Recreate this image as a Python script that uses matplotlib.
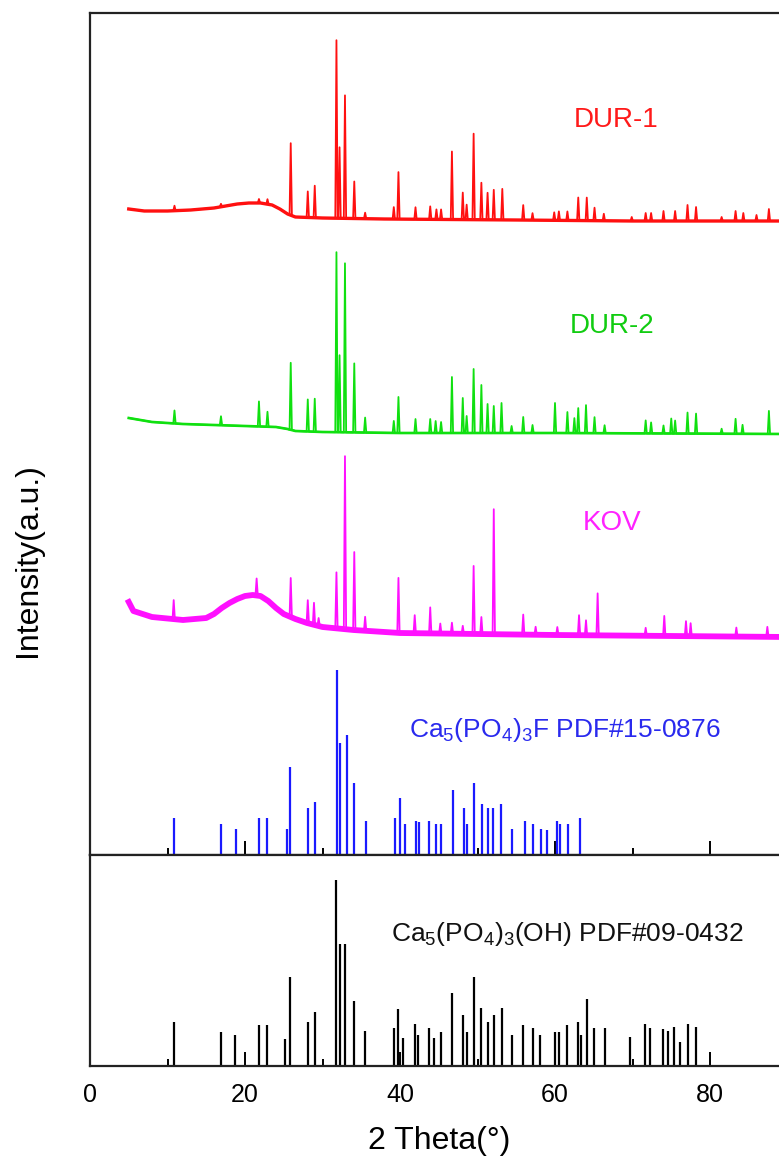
import numpy as np
import matplotlib
matplotlib.use('Agg')
import matplotlib.pyplot as plt
from matplotlib.ticker import MultipleLocator

plt.rcParams['font.family'] = ['Liberation Sans', 'DejaVu Sans']
plt.rcParams['mathtext.fontset'] = 'custom'
plt.rcParams['mathtext.rm'] = 'Liberation Sans'
plt.rcParams['mathtext.it'] = 'Liberation Sans:italic'
plt.rcParams['mathtext.bf'] = 'Liberation Sans:bold'

# ---- measured patterns: 2theta (deg) and stacked intensity (a.u.) ----
# DUR-1
dur1_base_x = [5, 7, 10, 13, 16, 17.5, 19, 20.5, 22, 23.5, 24.5, 25.5, 26.5, 30, 38, 55, 70, 90]
dur1_base_y = [646, 644, 644, 645, 647, 649, 651, 652, 652, 650, 646, 641, 638, 637, 636, 635, 634, 634]
dur1_pk_x = [10.9, 16.9, 21.8, 22.9, 25.9, 28.1, 29.0, 31.8, 32.2, 32.9, 34.1, 35.5, 39.2, 39.8,
             42.0, 43.9, 44.7, 45.3, 46.7, 48.1, 48.6, 49.5, 50.5, 51.3, 52.1, 53.2, 55.9, 57.1,
             59.9, 60.5, 61.6, 63.0, 64.1, 65.1, 66.3, 69.9, 71.7, 72.4, 74.0, 75.5, 77.1, 78.2,
             81.5, 83.3, 84.3, 86.0, 87.6]
dur1_pk_h = [5, 3, 4, 5, 72, 26, 32, 178, 71, 123, 37, 6, 12, 47,
             12, 13, 10, 10, 68, 27, 15, 86, 37, 27, 30, 31, 15, 7,
             8, 9, 9, 23, 23, 13, 7, 4, 8, 8, 10, 10, 16, 14,
             4, 10, 8, 6, 12]

# DUR-2
dur2_base_x = [5, 8, 12, 16, 20, 24, 25.5, 26.5, 30, 40, 60, 90]
dur2_base_y = [437, 433, 431, 430, 429, 428, 426, 424, 423, 422, 422, 421]
dur2_pk_x = [10.9, 16.9, 21.8, 22.9, 25.9, 28.1, 29.0, 31.8, 32.2, 32.9, 34.1, 35.5, 39.2, 39.8,
             42.0, 43.9, 44.6, 45.3, 46.7, 48.1, 48.6, 49.5, 50.5, 51.3, 52.1, 53.1, 54.4, 55.9,
             57.1, 60.0, 61.6, 62.5, 63.0, 64.0, 65.1, 66.4, 71.7, 72.4, 74.0, 75.0, 75.5, 77.1,
             78.2, 81.5, 83.3, 84.2, 87.6]
dur2_pk_h = [13, 9, 25, 15, 67, 32, 33, 180, 77, 169, 69, 15, 12, 36,
             14, 14, 12, 11, 56, 35, 17, 64, 48, 29, 27, 30, 7, 16,
             8, 30, 21, 15, 25, 28, 16, 8, 13, 11, 8, 15, 13, 21,
             20, 5, 15, 9, 23]

# KOV
kov_base_x = [5, 5.6, 8, 12, 15, 16, 17, 18, 19, 20, 21, 22, 23, 24, 25, 26.5, 28, 30, 34, 40, 60, 90]
kov_base_y = [253, 244, 238, 235, 237, 241, 247, 252, 256, 259, 260, 259, 254, 247, 241, 236, 232,
              228, 225, 222, 220, 218]
kov_pk_x = [10.8, 21.5, 25.9, 28.1, 28.9, 29.5, 31.8, 32.9, 34.1, 35.5, 39.8, 41.9, 43.9, 45.2,
            46.7, 48.1, 49.5, 50.5, 52.1, 55.9, 57.5, 60.3, 63.1, 64.0, 65.5, 71.7, 74.1, 76.9,
            77.5, 83.4, 87.4]
kov_pk_h = [19, 17, 39, 23, 22, 8, 56, 173, 78, 14, 55, 18, 26, 10,
            11, 8, 68, 17, 125, 20, 8, 8, 20, 15, 42, 8, 20, 15,
            13, 9, 10]

# ---- reference cards ----
fap_x = [10.9, 16.9, 18.9, 21.8, 22.9, 25.4, 25.85, 28.1, 29.0, 31.9, 32.2, 33.1, 34.1, 35.6,
         39.3, 39.95, 40.6, 42.1, 42.4, 43.8, 44.7, 45.3, 46.8, 48.2, 48.7, 49.5, 50.6, 51.3,
         52.0, 53.0, 54.4, 56.1, 57.2, 58.2, 59.0, 60.2, 60.6, 61.7, 63.2]
fap_h = [37, 31, 26, 37, 37, 26, 88, 47, 53, 185, 112, 120, 72, 34,
         37, 57, 31, 34, 33, 34, 31, 31, 65, 47, 31, 72, 51, 47,
         47, 51, 26, 34, 31, 26, 25, 34, 31, 31, 37]

hap_x = [10.85, 16.9, 18.75, 21.8, 22.9, 25.2, 25.85, 28.1, 28.97, 31.77, 32.2, 32.9, 34.05, 35.5,
         39.2, 39.8, 40.4, 41.9, 42.3, 43.8, 44.4, 45.3, 46.7, 48.1, 48.6, 49.5, 50.5, 51.3,
         52.1, 53.2, 54.4, 55.9, 57.1, 58.1, 60.0, 60.5, 61.6, 63.0, 63.4, 64.1, 65.0, 66.4,
         69.7, 71.6, 72.3, 73.9, 74.6, 75.4, 76.1, 77.1, 78.2]
hap_h = [44, 34, 31, 41, 41, 27, 89, 44, 54, 186, 122, 122, 65, 35,
         38, 57, 28, 42, 31, 38, 28, 34, 73, 51, 34, 89, 58, 44,
         51, 58, 31, 41, 38, 31, 34, 34, 41, 44, 31, 67, 38, 38,
         29, 42, 38, 37, 35, 39, 24, 42, 39]


def trace(base_x, base_y, pk_x, pk_h, w=0.15):
    # baseline knots plus a narrow spike for every read-off peak
    bx = np.asarray(base_x, float)
    by = np.asarray(base_y, float)
    px = np.asarray(pk_x, float)
    ph = np.asarray(pk_h, float)
    foot = np.interp(px, bx, by)
    keep = np.array([np.all(np.abs(px - v) > w) for v in bx])
    x = np.concatenate([bx[keep], px - w, px, px + w])
    y = np.concatenate([by[keep], foot, foot + ph, foot])
    order = np.argsort(x, kind='stable')
    return x[order], y[order]


fig = plt.figure(figsize=(7.79, 11.67), dpi=100)
fig.patch.set_facecolor('white')

left = 90 / 779
width = 697.5 / 779
ax = fig.add_axes([left, 312 / 1167, width, 842 / 1167])
ax2 = fig.add_axes([left, 101 / 1167, width, 211 / 1167])

# (base band width mimics the noise thickness of each scan)
patterns = [
    (dur1_base_x, dur1_base_y, dur1_pk_x, dur1_pk_h, '#ff1010', 2.4),
    (dur2_base_x, dur2_base_y, dur2_pk_x, dur2_pk_h, '#10e010', 1.9),
    (kov_base_x, kov_base_y, kov_pk_x, kov_pk_h, '#ff10ff', 4.2),
]
for bx, by, px, ph, col, band in patterns:
    ax.plot(bx, by, color=col, lw=band, solid_joinstyle='round')
    x, y = trace(bx, by, px, ph)
    ax.plot(x, y, color=col, lw=1.3)

ax.vlines(fap_x, 0, fap_h, colors='#1a1aff', lw=1.6)
ax2.vlines(hap_x, 0, hap_h, colors='black', lw=1.6)

ax.text(67.9, 735, 'DUR-1', color='#ff1a1a', fontsize=20, ha='center', va='center')
ax.text(67.4, 529, 'DUR-2', color='#11cc11', fontsize=20, ha='center', va='center')
ax.text(67.3, 332, 'KOV', color='#ff22ff', fontsize=20, ha='center', va='center')
ax.text(41.2, 118, r'Ca$_5$(PO$_4$)$_3$F PDF#15-0876', color='#2a2aee', fontsize=19,
        ha='left', va='baseline')
ax2.text(38.9, 125, r'Ca$_5$(PO$_4$)$_3$(OH) PDF#09-0432', color='#111111', fontsize=19,
         ha='left', va='baseline')

for a in (ax, ax2):
    a.set_xlim(0, 90)
    a.xaxis.set_major_locator(MultipleLocator(20))
    a.xaxis.set_minor_locator(MultipleLocator(10))
    a.tick_params(axis='x', which='major', direction='in', length=10, width=1.4,
                  top=False, bottom=True, labelsize=18, pad=12)
    a.tick_params(axis='x', which='minor', direction='in', length=5, width=1.4,
                  top=False, bottom=True)
    a.set_yticks([])
    for s in a.spines.values():
        s.set_linewidth(1.6)
        s.set_color('#222222')

ax.set_ylim(0, 842)
ax2.set_ylim(0, 211)
ax.tick_params(axis='x', labelbottom=False)

ax2.set_xlabel('2 Theta(°)', fontsize=23, labelpad=14)
fig.text(28 / 779, 1 - 560 / 1167, 'Intensity(a.u.)', rotation=90, fontsize=23,
         ha='center', va='center')

fig.savefig('out.png', dpi=100)
